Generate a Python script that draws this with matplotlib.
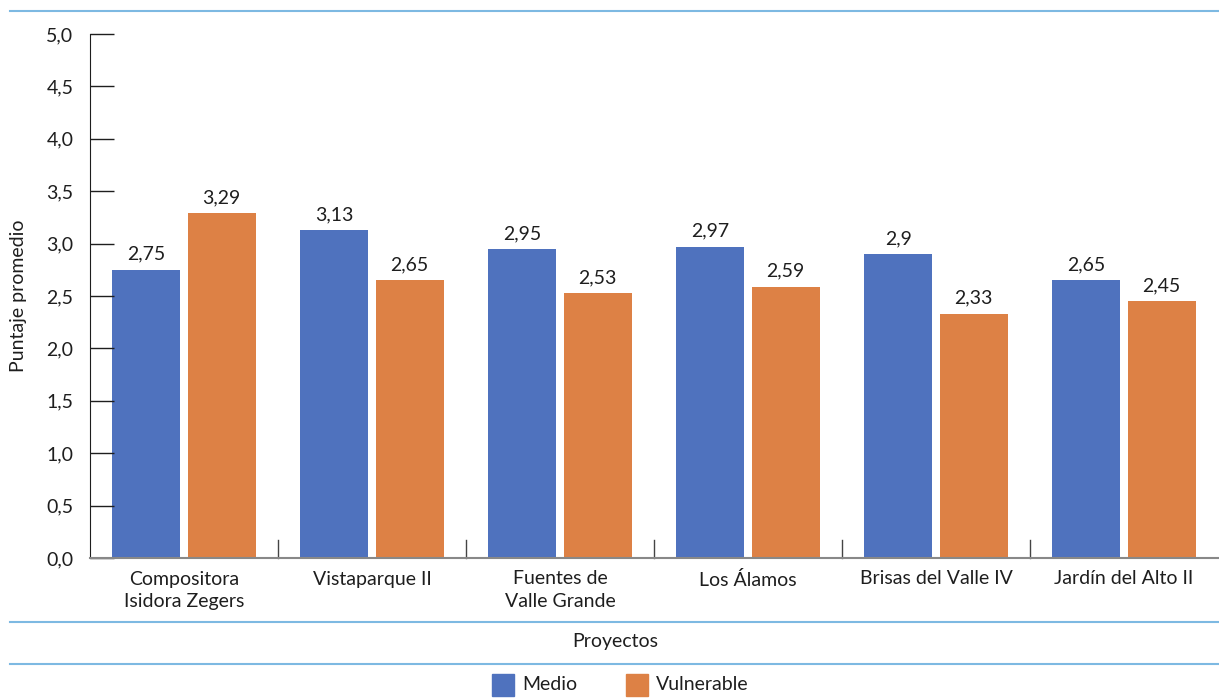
import matplotlib
matplotlib.use("Agg")
import matplotlib.pyplot as plt
import numpy as np
from matplotlib.patches import Rectangle
from matplotlib.lines import Line2D

plt.rcParams['font.family'] = ['Lato', 'DejaVu Sans']

categories = ["Compositora\nIsidora Zegers", "Vistaparque II", "Fuentes de\nValle Grande",
              "Los Álamos", "Brisas del Valle IV", "Jardín del Alto II"]
medio = [2.75, 3.13, 2.95, 2.97, 2.90, 2.65]
vulnerable = [3.29, 2.65, 2.53, 2.59, 2.33, 2.45]
medio_labels = ["2,75", "3,13", "2,95", "2,97", "2,9", "2,65"]
vulnerable_labels = ["3,29", "2,65", "2,53", "2,59", "2,33", "2,45"]
yticks = [0.0, 0.5, 1.0, 1.5, 2.0, 2.5, 3.0, 3.5, 4.0, 4.5, 5.0]
ytick_labels = ["0,0", "0,5", "1,0", "1,5", "2,0", "2,5", "3,0", "3,5", "4,0", "4,5", "5,0"]

BLUE = "#4F72BE"
ORANGE = "#DD8145"
RULE = "#7DB9E2"
TXT = "#1e1e1e"
FS = 14

W, H = 1219, 698
fig = plt.figure(figsize=(W / 100, H / 100), dpi=100)
ax_w = 1218 - 90
ax = fig.add_axes([90 / W, 1 - 558 / H, ax_w / W, (558 - 34) / H])

x = np.arange(len(categories))
bw = 0.362
ax.bar(x - 0.2, medio, width=bw, color=BLUE)
ax.bar(x + 0.2, vulnerable, width=bw, color=ORANGE)

for xi, v, t in zip(x, medio, medio_labels):
    ax.text(xi - 0.2, v + 0.095, t, ha="center", va="baseline", fontsize=FS, color=TXT)
for xi, v, t in zip(x, vulnerable, vulnerable_labels):
    ax.text(xi + 0.2, v + 0.095, t, ha="center", va="baseline", fontsize=FS, color=TXT)

ax.set_xlim(-0.5, len(categories) - 0.5)
ax.set_ylim(0, 5.0)
ax.set_yticks(yticks)
ax.set_yticklabels(ytick_labels, fontsize=FS, color=TXT)
ax.tick_params(axis="y", direction="in", length=17, width=1, color=TXT, pad=12)
ax.set_xticks(x)
ax.set_xticklabels(categories, fontsize=FS, color=TXT, linespacing=1.4)
ax.tick_params(axis="x", length=0, pad=9)
# category separators
for b in np.arange(0.5, len(categories) - 0.5, 1.0):
    ax.plot([b, b], [0, 0.17], color="#444444", lw=1, clip_on=False)

for s in ["top", "right"]:
    ax.spines[s].set_visible(False)
ax.spines["left"].set_color(TXT)
ax.spines["bottom"].set_color("#888888")
ax.spines["bottom"].set_linewidth(1.5)

ax.set_ylabel("Puntaje promedio", fontsize=FS, color=TXT)
ax.yaxis.set_label_coords(-63 / ax_w, 0.5)

# horizontal rules
for yp in [11, 622, 664]:
    fig.add_artist(Line2D([10 / W, 1.0], [1 - yp / H, 1 - yp / H], color=RULE, lw=1.5))

fig.text(615 / W, 1 - 641 / H, "Proyectos", ha="center", va="center", fontsize=FS, color=TXT)

# legend
for x0, c, lab in [(492, BLUE, "Medio"), (626, ORANGE, "Vulnerable")]:
    fig.add_artist(Rectangle((x0 / W, 1 - 696 / H), 22 / W, 22 / H, color=c, transform=fig.transFigure))
    fig.text((x0 + 30) / W, 1 - 684 / H, lab, ha="left", va="center", fontsize=FS, color=TXT)

fig.savefig("out.png", dpi=100)
